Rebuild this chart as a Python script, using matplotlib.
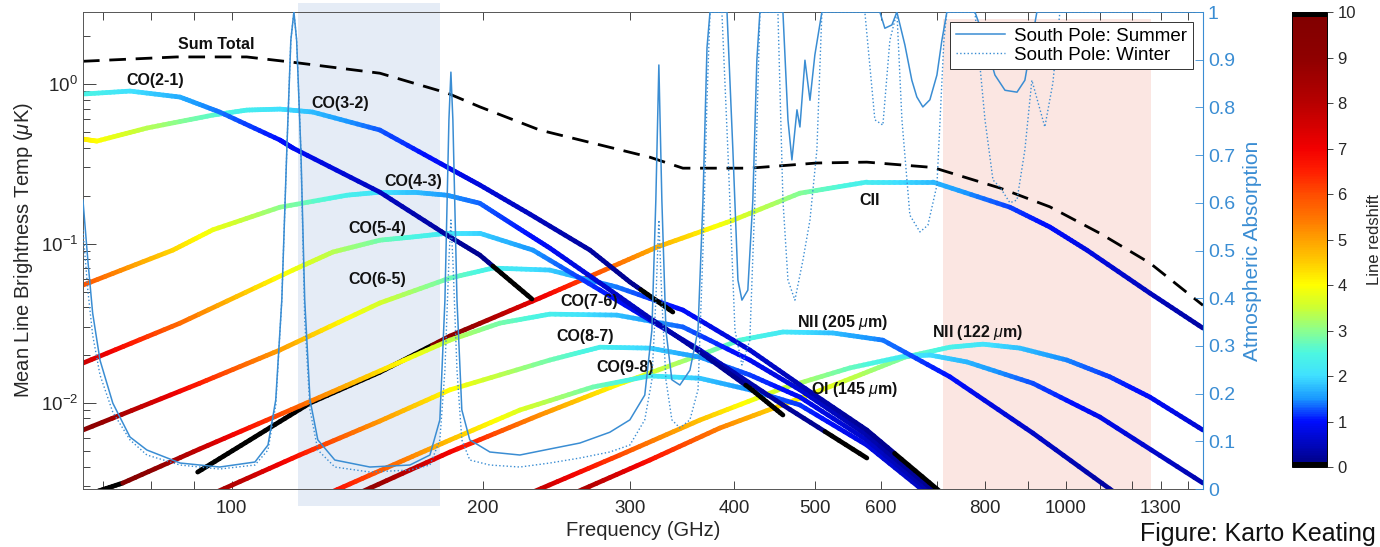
import numpy as np
import matplotlib
matplotlib.use("Agg")
import matplotlib.pyplot as plt
from matplotlib.collections import LineCollection
from matplotlib.colors import ListedColormap, LinearSegmentedColormap, Normalize
from matplotlib.patches import Rectangle
from matplotlib.ticker import NullLocator, FixedLocator

plt.rcParams['font.family'] = ['Liberation Sans', 'DejaVu Sans']
plt.rcParams['mathtext.fontset'] = 'custom'
plt.rcParams['mathtext.rm'] = 'Liberation Sans'
plt.rcParams['mathtext.it'] = 'Liberation Sans:italic'
plt.rcParams['mathtext.bf'] = 'Liberation Sans:bold'

# rest frequencies in GHz (for colouring by redshift)
nu_co21, nu_co32, nu_co43, nu_co54 = 230.5, 345.8, 461.0, 576.3
nu_co65, nu_co76, nu_co87, nu_co98 = 691.5, 806.7, 921.8, 1036.9
nu_cii, nu_nii205, nu_oi, nu_nii122 = 1900.5, 1461.1, 2060.1, 2459.4

co21_freq = [66.3, 75.5, 86.7, 96.7, 114.2, 118.4, 150.5, 181.1, 198.3, 229.0]
co21_temp = [0.866, 0.904, 0.829, 0.668, 0.446, 0.397, 0.210, 0.113, 0.0847, 0.0449]

co32_freq = [66.3, 68.9, 79.1, 94.9, 104.2, 114.2, 125.0, 150.5, 181.1, 198.3, 227.7, 268.8, 300.1, 337.9]
co32_temp = [0.452, 0.439, 0.530, 0.639, 0.687, 0.697, 0.668, 0.515, 0.302, 0.233, 0.153, 0.0910, 0.0574, 0.0372]

co43_freq = [66.3, 85.0, 94.9, 114.2, 137.4, 150.5, 164.8, 181.1, 198.3, 219.6, 240.6, 276.3, 317.1, 364.1, 417.9, 457.9]
co43_temp = [0.0549, 0.0910, 0.122, 0.169, 0.201, 0.210, 0.210, 0.201, 0.179, 0.127, 0.0937, 0.0566, 0.0341, 0.0209, 0.0124, 0.00841]

co54_freq = [66.3, 86.7, 118.4, 132.2, 150.5, 164.8, 181.1, 198.3, 229.6, 276.3, 364.1, 457.9, 577.3]
co54_temp = [0.0178, 0.0317, 0.0682, 0.0885, 0.105, 0.110, 0.116, 0.116, 0.0910, 0.0511, 0.0215, 0.00972, 0.00452]

co65_freq = [66.3, 91.5, 114.2, 150.5, 182.6, 205.6, 240.6, 289.5, 347.4, 417.9, 479.9, 577.3, 726.1]
co65_temp = [0.00677, 0.0133, 0.0215, 0.0424, 0.0608, 0.0702, 0.0682, 0.0534, 0.0383, 0.0215, 0.0130, 0.00677, 0.00247]

co76_freq = [66.3, 74.0, 91.5, 120.6, 150.5, 182.6, 209.6, 240.6, 289.5, 347.4, 417.9, 479.9, 577.3, 716.0]
co76_temp = [0.00261, 0.00315, 0.00515, 0.00958, 0.0159, 0.0248, 0.0317, 0.0361, 0.0356, 0.0300, 0.0186, 0.0121, 0.00630, 0.00247]

co87_freq = [94.1, 120.6, 150.5, 182.6, 240.6, 276.3, 317.1, 364.1, 417.9, 479.9, 577.3, 706.3]
co87_temp = [0.00265, 0.00472, 0.00771, 0.0121, 0.0186, 0.0224, 0.0221, 0.0194, 0.0150, 0.0109, 0.00586, 0.00247]

co98_freq = [129.3, 159.0, 182.6, 221.5, 270.9, 317.1, 364.1, 417.9, 479.9, 577.3, 696.6]
co98_temp = [0.00265, 0.00427, 0.00586, 0.00904, 0.0126, 0.0148, 0.0143, 0.0121, 0.00972, 0.00545, 0.00247]

cii_freq = [91.0, 105.1, 124.1, 150.5, 182.6, 234.0, 276.3, 323.3, 398.8, 479.9, 577.3, 692.8, 856.9, 956.7, 1059.7, 1261, 1460]
cii_temp = [0.00369, 0.00586, 0.0100, 0.0156, 0.0263, 0.0455, 0.0663, 0.0950, 0.140, 0.207, 0.243, 0.243, 0.169, 0.127, 0.0910, 0.0489, 0.0295]

nii205_freq = [140.4, 182.6, 234.0, 289.5, 364.1, 406.5, 457.9, 525.5, 603.4, 726.1, 912.9, 1177]
nii205_temp = [0.00265, 0.00493, 0.00841, 0.0130, 0.0200, 0.0248, 0.0279, 0.0275, 0.0248, 0.0146, 0.00648, 0.00247]

oi_freq = [225.2, 291.9, 364.1, 457.9, 550.8, 641.2, 687.0, 760.9, 912.9, 1098.5, 1460]
oi_temp = [0.00265, 0.00472, 0.00782, 0.0124, 0.0166, 0.0197, 0.0200, 0.0181, 0.0133, 0.00817, 0.00315]

nii122_freq = [254.3, 317.1, 384.7, 479.9, 566.2, 641.2, 726.1, 795.3, 880.8, 1002.8, 1129, 1261, 1460]
nii122_temp = [0.00265, 0.00439, 0.00697, 0.0107, 0.0150, 0.0194, 0.0224, 0.0234, 0.0221, 0.0186, 0.0146, 0.0109, 0.00677]

sum_freq = [66.3, 85.9, 104.2, 118.4, 150.5, 181.1, 198.3, 234.0, 317.1, 347.4, 417.9, 502.9, 577.3, 692.8, 833.6, 956.7, 1098.5, 1261, 1460]
sum_temp = [1.39, 1.48, 1.48, 1.37, 1.17, 0.88, 0.72, 0.515, 0.348, 0.297, 0.297, 0.32, 0.324, 0.30, 0.223, 0.17, 0.116, 0.0755, 0.041]

# atmospheric absorption (0-1)
summer_freq = [66.3, 67.2, 68.1, 69.5, 72.0, 75.5, 79.1, 86.7, 96.7, 106.6, 110.5, 112.9, 114.8, 116.4, 117.7, 118.7,
               119.6, 121.0, 122.3, 124.1, 126.8, 132.9, 146.4, 163.5, 172.8, 177.6, 180.1, 182.1, 183.1, 184.1,
               186.2, 188.7, 192.9, 203.9, 221.5, 240.6, 261.4, 283.9, 300.1, 312.7, 318.9, 322.4, 325.1, 327.8,
               331.5, 337.0, 344.5, 354.2, 362.2, 367.2, 371.3, 374.4, 392.4, 398.8, 404.4, 408.9, 415.6, 421.4,
               426.1, 429.7, 457.9, 464.3, 469.4, 476.0, 479.9, 486.6, 493.4, 500.1, 509.9, 598.4, 606.7, 618.6,
               627.2, 641.2, 653.6, 662.7, 673.8, 687.0, 700.5, 710.2, 720.0, 778.0, 799.9, 822.1, 845.3, 873.8,
               893.0, 910.4, 923.1, 1460]
summer_abs = [0.606, 0.480, 0.369, 0.270, 0.180, 0.109, 0.0818, 0.0545, 0.0461, 0.0566, 0.0922, 0.187, 0.396, 0.711, 0.941, 1.0,
              0.941, 0.711, 0.396, 0.187, 0.103, 0.0608, 0.0461, 0.0503, 0.0713, 0.145, 0.396, 0.774, 0.874, 0.774,
              0.396, 0.166, 0.103, 0.0776, 0.0713, 0.0839, 0.0964, 0.119, 0.145, 0.197, 0.333, 0.606, 0.889, 0.606,
              0.333, 0.229, 0.218, 0.249, 0.333, 0.606, 0.925, 1.0, 1.0, 0.711, 0.438, 0.396, 0.417, 0.606,
              0.899, 1.0, 1.0, 0.774, 0.690, 0.795, 0.759, 0.899, 0.815, 0.910, 1.0, 1.0, 0.966, 0.973,
              1.0, 0.931, 0.857, 0.822, 0.801, 0.816, 0.868, 0.941, 1.0, 1.0, 0.941, 0.868, 0.836, 0.832,
              0.857, 0.941, 1.0, 1.0]

winter_freq = [66.3, 67.2, 68.1, 69.5, 72.0, 75.5, 79.1, 86.7, 96.7, 106.6, 110.5, 112.9, 114.8, 116.4, 117.7, 118.7,
               119.6, 121.0, 122.3, 124.1, 126.8, 132.9, 146.4, 163.5, 172.8, 177.6, 180.1, 182.1, 183.1, 184.1,
               186.2, 188.7, 192.9, 203.9, 221.5, 240.6, 261.4, 283.9, 300.1, 312.7, 318.9, 322.4, 325.1, 327.8,
               331.5, 337.0, 344.5, 354.2, 362.2, 367.2, 371.3, 374.4, 386.9, 393.3, 401.1, 408.9, 417.9, 423.8,
               429.7, 451.6, 457.9, 464.3, 473.3, 483.9, 493.4, 502.9, 509.9, 574.1, 590.2, 603.4, 615.2, 627.2,
               636.0, 650.1, 668.4, 683.2, 700.5, 714.1, 720.0, 778.0, 799.9, 817.7, 833.6, 856.9, 873.8, 893.0,
               910.4, 943.6, 964.7, 983.6, 1460]
winter_abs = [0.543, 0.417, 0.323, 0.239, 0.161, 0.103, 0.0713, 0.0503, 0.0419, 0.0503, 0.0818, 0.176, 0.396, 0.711, 0.941, 1.0,
              0.941, 0.711, 0.354, 0.166, 0.0818, 0.0461, 0.0356, 0.0398, 0.0503, 0.103, 0.249, 0.480, 0.564, 0.480,
              0.249, 0.103, 0.0608, 0.0503, 0.0461, 0.0545, 0.0650, 0.0776, 0.0922, 0.145, 0.229, 0.396, 0.564, 0.396,
              0.229, 0.145, 0.128, 0.145, 0.208, 0.501, 0.816, 1.0, 1.0, 0.711, 0.333, 0.260, 0.312, 0.606,
              1.0, 1.0, 0.606, 0.438, 0.396, 0.480, 0.564, 0.711, 1.0, 1.0, 0.774, 0.763, 0.941, 1.0,
              0.774, 0.574, 0.539, 0.553, 0.637, 0.941, 1.0, 1.0, 0.774, 0.648, 0.633, 0.600, 0.606, 0.711,
              0.857, 0.759, 0.851, 1.0, 1.0]

# colormap matching the colorbar (jet-like with black ends)
anchors = [(0.0, (0.0, 0.0, 0.5)), (0.1, (0.0, 0.05, 1.0)), (0.15, (0.1, 0.6, 1.0)), (0.2, (0.25, 0.88, 1.0)),
           (0.25, (0.3, 0.97, 0.88)), (0.3, (0.55, 1.0, 0.55)), (0.35, (0.8, 1.0, 0.2)), (0.4, (1.0, 1.0, 0.0)),
           (0.45, (1.0, 0.8, 0.0)), (0.5, (1.0, 0.63, 0.0)), (0.55, (1.0, 0.45, 0.0)), (0.6, (1.0, 0.3, 0.0)),
           (0.65, (1.0, 0.12, 0.0)), (0.7, (0.95, 0.0, 0.0)), (0.8, (0.72, 0.0, 0.0)), (0.9, (0.56, 0.0, 0.0)),
           (1.0, (0.5, 0.0, 0.0))]
base = LinearSegmentedColormap.from_list('zmap', anchors)
cols = base(np.linspace(0, 1, 256))
cols[:3] = [0, 0, 0, 1]
cols[-3:] = [0, 0, 0, 1]
cmap = ListedColormap(cols)
cmap.set_over('black')
cmap.set_under('black')
norm = Normalize(0, 10)

blue = '#3a8dd3'

fig = plt.figure(figsize=(13.8, 5.47), dpi=100)
# shaded bands (drawn on the figure behind the axes)
fig.patches.append(Rectangle((0.2159, 0.075), 0.1029, 0.9195, transform=fig.transFigure,
                             facecolor='#e5ecf6', edgecolor='none', zorder=-1))
fig.patches.append(Rectangle((0.6833, 0.1042), 0.1507, 0.861, transform=fig.transFigure,
                             facecolor='#fbe6e2', edgecolor='none', zorder=-1))

ax = fig.add_axes([0.0601, 0.106, 0.8116, 0.872])
ax.patch.set_alpha(0)
ax.set_xscale('log')
ax.set_yscale('log')
ax.set_xlim(66.3, 1460)
ax.set_ylim(2.89e-3, 2.83)


def colour_line(f, t, nu0, lw=3.4):
    lf, lt = np.log10(f), np.log10(t)
    segs, zs = [], []
    n = 12
    for i in range(len(f) - 1):
        s = np.linspace(0, 1, n + 1)
        xs = 10 ** (lf[i] + s * (lf[i + 1] - lf[i]))
        ys = 10 ** (lt[i] + s * (lt[i + 1] - lt[i]))
        pts = np.column_stack([xs, ys])
        for j in range(n):
            segs.append(pts[j:j + 2])
            zs.append(nu0 / np.sqrt(xs[j] * xs[j + 1]) - 1)
    lc = LineCollection(segs, cmap=cmap, norm=norm, linewidths=lw, capstyle='round')
    lc.set_array(np.array(zs))
    ax.add_collection(lc)


lines = [
    (nii122_freq, nii122_temp, nu_nii122),
    (oi_freq, oi_temp, nu_oi),
    (nii205_freq, nii205_temp, nu_nii205),
    (cii_freq, cii_temp, nu_cii),
    (co98_freq, co98_temp, nu_co98),
    (co87_freq, co87_temp, nu_co87),
    (co76_freq, co76_temp, nu_co76),
    (co65_freq, co65_temp, nu_co65),
    (co54_freq, co54_temp, nu_co54),
    (co43_freq, co43_temp, nu_co43),
    (co32_freq, co32_temp, nu_co32),
    (co21_freq, co21_temp, nu_co21),
]
for f, t, nu0 in lines:
    colour_line(f, t, nu0)

ax.plot(sum_freq, sum_temp, color='black', lw=2.0, ls=(0, (6, 3.5)))

# line labels
labels = [('Sum Total', 95.7, 1.76), ('CO(2-1)', 80.9, 1.06), ('CO(3-2)', 134.8, 0.76),
          ('CO(4-3)', 165.2, 0.246), ('CO(5-4)', 149.3, 0.125), ('CO(6-5)', 149.6, 0.0599),
          ('CO(7-6)', 268.5, 0.0436), ('CO(8-7)', 265.0, 0.0263), ('CO(9-8)', 296.5, 0.0166),
          ('CII', 582, 0.187), (r'NII (205 $\mu$m)', 540, 0.0322), (r'NII (122 $\mu$m)', 783, 0.0275),
          (r'OI (145 $\mu$m)', 558, 0.0121)]
for s, x, y in labels:
    ax.text(x, y, s, fontsize=11.5, fontweight='bold', ha='center', va='center', color='#111111', zorder=5)

xt = [70, 80, 90, 100, 200, 300, 400, 500, 600, 700, 800, 900, 1000, 1100, 1200, 1300, 1400]
xl = ['', '', '', '100', '200', '300', '400', '500', '600', '', '800', '', '1000', '', '', '1300', '']
ax.xaxis.set_major_locator(FixedLocator(xt))
ax.set_xticklabels(xl)
ax.xaxis.set_minor_locator(NullLocator())
ax.tick_params(which='both', direction='in', top=True, right=False, width=0.6, colors='#262626', labelsize=13.5)
ax.tick_params(axis='x', length=6, pad=8)
ax.tick_params(axis='y', which='major', length=9)
ax.tick_params(axis='y', which='minor', length=5)
for side in ['left', 'top', 'bottom']:
    ax.spines[side].set_color('#555555')
    ax.spines[side].set_linewidth(0.7)
ax.spines['right'].set_visible(False)
ax.set_xlabel('Frequency (GHz)', fontsize=14.5, color='#262626', labelpad=3)
ax.set_ylabel(r'Mean Line Brightness Temp ($\mu$K)', fontsize=14.5, color='#262626', labelpad=4)

ax2 = ax.twinx()
ax2.set_ylim(0, 1)
ax2.plot(summer_freq, summer_abs, color=blue, lw=1.1, label='South Pole: Summer')
ax2.plot(winter_freq, winter_abs, color=blue, lw=1.0, ls=':', label='South Pole: Winter')
ax2.set_yticks(np.arange(0, 1.01, 0.1))
ax2.set_yticklabels(['0', '0.1', '0.2', '0.3', '0.4', '0.5', '0.6', '0.7', '0.8', '0.9', '1'])
ax2.tick_params(axis='y', direction='in', length=6, width=0.6, colors=blue, labelsize=14)
for side in ['left', 'top', 'bottom']:
    ax2.spines[side].set_visible(False)
ax2.spines['right'].set_color(blue)
ax2.spines['right'].set_linewidth(0.8)
ax2.set_ylabel('Atmospheric Absorption', fontsize=15, color=blue, labelpad=6)
leg = ax2.legend(loc='upper right', bbox_to_anchor=(0.991, 0.979), borderaxespad=0, fontsize=13.5,
                 fancybox=False, framealpha=1, edgecolor='#333333', handlelength=2.6,
                 borderpad=0.3, labelspacing=0.1, handletextpad=0.5)
leg.get_frame().set_linewidth(0.7)

cax = fig.add_axes([0.9362, 0.146, 0.0254, 0.832])
sm = plt.cm.ScalarMappable(cmap=cmap, norm=norm)
cb = fig.colorbar(sm, cax=cax, ticks=range(11))
cb.ax.tick_params(labelsize=12, direction='out', length=4, width=0.6, colors='#262626')
cb.outline.set_linewidth(0.7)
cb.set_label('Line redshift', fontsize=12, color='#262626', labelpad=8)

fig.text(0.826, 0.011, 'Figure: Karto Keating', fontsize=18, color='#111111', va='baseline')

fig.savefig('out.png', dpi=100)
